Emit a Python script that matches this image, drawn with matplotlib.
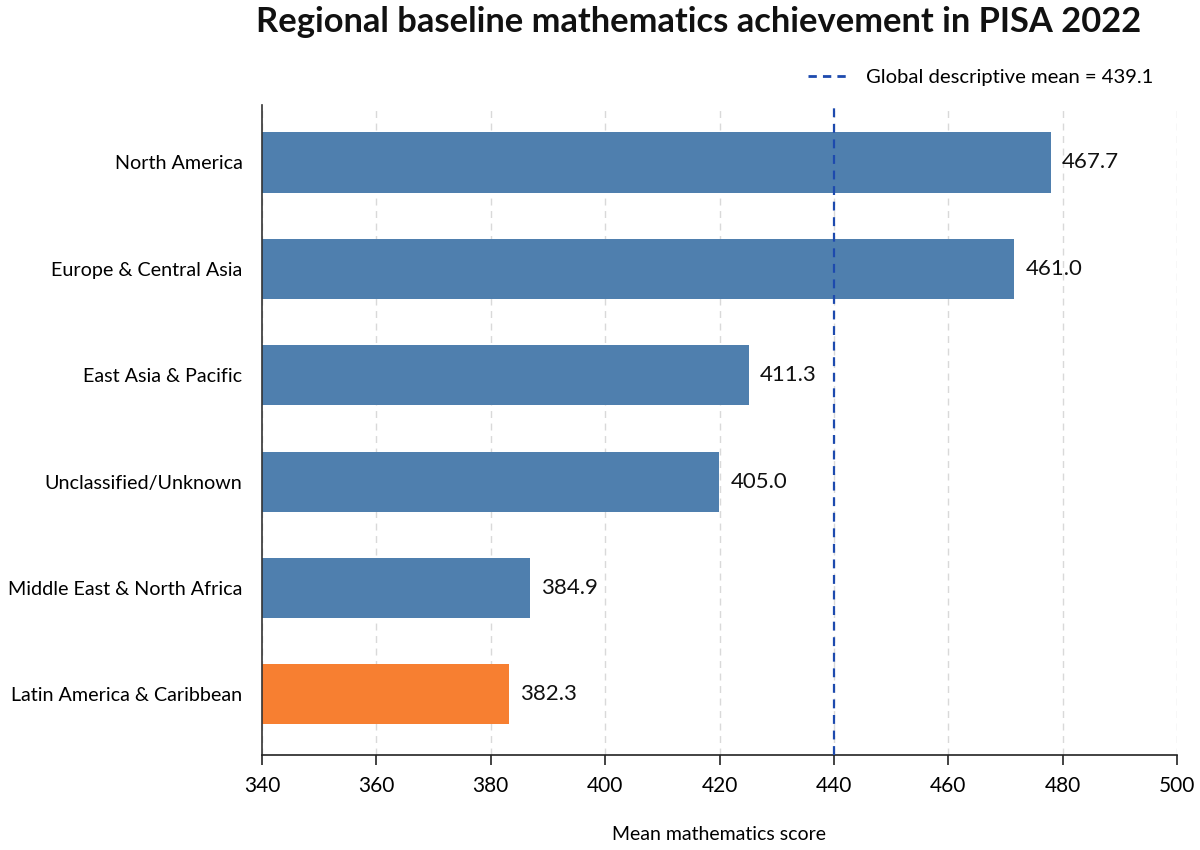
import matplotlib
matplotlib.use("Agg")
import matplotlib.pyplot as plt
from matplotlib.lines import Line2D

regions = ["North America", "Europe & Central Asia", "East Asia & Pacific",
           "Unclassified/Unknown", "Middle East & North Africa", "Latin America & Caribbean"]
bar_values = [477.9, 471.5, 425.1, 419.9, 386.8, 383.2]
value_labels = ["467.7", "461.0", "411.3", "405.0", "384.9", "382.3"]
highlight = [False, False, False, False, False, True]
mean_value = 440.0
mean_label = "Global descriptive mean = 439.1"
xticks = [340, 360, 380, 400, 420, 440, 460, 480, 500]

plt.rcParams['font.family'] = ['Lato', 'DejaVu Sans']

fig = plt.figure(figsize=(12, 8.5), dpi=100)
ax = fig.add_axes([262/1200, 1-755/850, (1177-262)/1200, (755-105)/850])

blue = '#4f7fae'
orange = '#f77f31'
ypos = list(range(len(regions)))
colors = [orange if h else blue for h in highlight]
ax.barh(ypos, [v - 340 for v in bar_values], left=340, height=0.565, color=colors, zorder=2)

for y, v, lab in zip(ypos, bar_values, value_labels):
    ax.text(v + 2.0, y + 0.0, lab, va='center', ha='left', fontsize=16, color='#111111')

ax.axvline(mean_value, color='#1d4aae', linestyle=(0, (4, 3)), linewidth=1.6, zorder=3)

ax.set_xlim(340, 500)
ax.set_ylim(5.57, -0.54)
ax.set_xticks(xticks)
ax.set_xticklabels([str(t) for t in xticks], fontsize=15)
ax.set_yticks(ypos)
ax.set_yticklabels(regions, fontsize=14.2)
ax.tick_params(axis='y', length=0, pad=14)
ax.tick_params(axis='x', length=7, width=1.2, pad=8, color='#222222')

ax.xaxis.grid(True, linestyle=(0, (5, 4)), color='#d9d9d9', linewidth=1.0, zorder=0)
ax.set_axisbelow(True)
for s in ['top', 'right']:
    ax.spines[s].set_visible(False)
ax.spines['left'].set_color('#333333')
ax.spines['bottom'].set_color('#222222')
ax.spines['left'].set_linewidth(1.2)
ax.spines['bottom'].set_linewidth(1.2)

ax.set_xlabel("Mean mathematics score", fontsize=14, labelpad=22)

handle = Line2D([0], [0], color='#1d4aae', linestyle=(0, (3, 2.2)), linewidth=2)
fig.legend([handle], [mean_label], loc='center right', bbox_to_anchor=(1172/1200, 1-77/850),
           frameon=False, fontsize=14.6, handlelength=2.1, handletextpad=0.8)

fig.text(699/1200, 1-22/850, "Regional baseline mathematics achievement in PISA 2022",
         ha='center', va='center', fontsize=24.8, fontweight='bold', color='#111111')

fig.savefig("out.png", dpi=100, facecolor='white')
